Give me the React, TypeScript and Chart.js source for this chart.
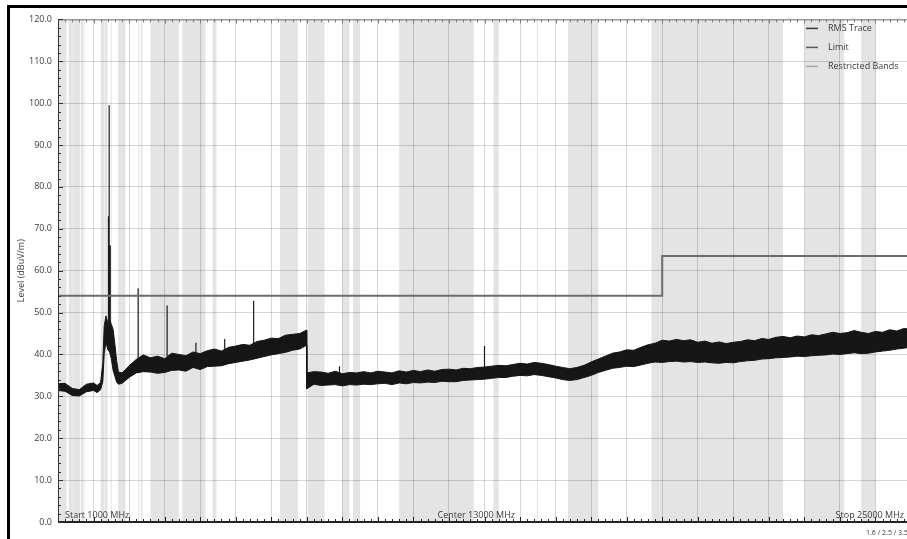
import { useEffect, useRef } from "react";
import { Chart, registerables } from "chart.js";

Chart.register(...registerables);

// ---- axis ranges / ticks ----
const FREQ_MIN = 1000;
const FREQ_MAX = 25000;
const FREQ_MAJOR = 1000;
const FREQ_MINOR = 200;
const LEVEL_MIN = 0;
const LEVEL_MAX = 120;
const LEVEL_MAJOR = 10;
const LEVEL_MINOR = 2;

// ---- RMS trace envelope (MHz, dBuV/m) ----
const traceFreqs = [
  1000, 1200, 1400, 1600, 1800, 2000, 2100, 2200, 2260, 2300, 2350, 2400, 2450, 2500, 2550, 2600, 2650, 2700,
  2800, 2900, 3000, 3200, 3400, 3600, 3800, 4000, 4200, 4400, 4600, 4800, 5000, 5200, 5400, 5600, 5800, 6000,
  6200, 6400, 6600, 6800, 7000, 7200, 7400, 7600, 7800, 7990, 8000, 8200, 8400, 8600, 8800, 9000, 9200, 9400,
  9600, 9800, 10000, 10200, 10400, 10600, 10800, 11000, 11200, 11400, 11600, 11800, 12000, 12200, 12400, 12600,
  12800, 13000, 13200, 13400, 13600, 13800, 14000, 14200, 14400, 14600, 14800, 15000, 15200, 15400, 15600,
  15800, 16000, 16200, 16400, 16600, 16800, 17000, 17200, 17400, 17600, 17800, 18000, 18200, 18400, 18600,
  18800, 19000, 19200, 19400, 19600, 19800, 20000, 20200, 20400, 20600, 20800, 21000, 21200, 21400, 21600,
  21800, 22000, 22200, 22400, 22600, 22800, 23000, 23200, 23400, 23600, 23800, 24000, 24200, 24400, 24600,
  24800, 25000,
];
const traceLow = [
  31.4, 31.2, 30.2, 30.1, 31.1, 31.4, 30.9, 31.6, 33.5, 40.2, 43.0, 41.2, 40.6, 39.0, 36.2, 34.8, 33.4, 32.9,
  33.1, 33.8, 34.5, 35.6, 35.9, 35.8, 35.5, 35.7, 36.2, 36.3, 36.0, 36.9, 36.4, 37.1, 37.2, 37.3, 37.8, 38.1,
  38.4, 38.7, 39.1, 39.5, 39.9, 40.2, 40.5, 41.0, 41.3, 42.2, 31.8, 32.9, 32.6, 32.7, 32.8, 32.5, 32.8, 32.7,
  32.9, 32.8, 33.0, 33.1, 32.8, 33.2, 33.0, 33.3, 33.2, 33.4, 33.3, 33.6, 33.5, 33.5, 33.8, 33.9,
  34.0, 34.1, 34.3, 34.5, 34.5, 34.8, 35.0, 34.9, 35.2, 35.0, 34.7, 34.4, 34.0, 33.8, 34.0,
  34.5, 35.0, 35.7, 36.2, 36.7, 36.9, 37.2, 37.1, 37.5, 37.9, 38.2, 38.1, 38.3, 38.4, 38.2,
  38.3, 38.1, 38.2, 38.0, 37.9, 38.1, 38.0, 38.3, 38.5, 38.6, 38.9, 39.0, 39.2, 39.3, 39.4,
  39.6, 39.5, 39.7, 39.8, 39.9, 40.1, 40.0, 40.2, 40.4, 40.2, 40.3, 40.6, 40.8, 41.0, 41.3,
  41.5, 41.8,
];
const traceHigh = [
  33.0, 33.1, 31.9, 31.6, 32.9, 33.2, 32.6, 33.3, 38.0, 46.8, 49.2, 47.6, 48.4, 47.2, 46.0, 42.5, 38.6, 35.8,
  35.6, 36.4, 37.3, 38.8, 39.9, 39.2, 39.6, 39.0, 40.3, 40.0, 39.7, 40.6, 40.2, 40.9, 41.3, 40.8, 41.7, 42.0,
  42.4, 42.2, 43.1, 43.4, 43.9, 43.8, 44.6, 44.8, 45.0, 45.8, 35.6, 35.9, 35.8, 35.5, 36.0, 35.4, 35.7, 35.6,
  35.9, 35.6, 36.0, 35.8, 35.6, 36.1, 35.8, 36.2, 35.9, 36.3, 36.0, 36.4, 36.5, 36.3, 36.7, 36.6,
  36.9, 37.0, 37.2, 37.4, 37.3, 37.6, 37.9, 37.7, 38.1, 37.9, 37.6, 37.2, 36.9, 36.6, 36.9,
  37.4, 38.2, 38.9, 39.6, 40.3, 40.6, 41.1, 41.0, 41.7, 42.3, 42.7, 43.4, 43.2, 43.6, 43.3,
  43.5, 42.9, 43.2, 42.7, 43.0, 42.6, 42.9, 43.1, 43.5, 43.3, 43.8, 43.6, 44.1, 44.3, 44.0,
  44.4, 44.2, 44.7, 44.5, 44.9, 45.3, 45.0, 45.2, 45.7, 45.3, 45.0, 45.5, 45.3, 45.9, 45.6,
  46.2, 46.0,
];

// ---- narrow emissions (MHz, base and peak dBuV/m) ----
const spikeFreqs = [2420, 2440, 2470, 3255, 4070, 4880, 5690, 6505, 8920, 13000];
const spikeBase = [46.5, 47.5, 46.5, 39.0, 39.5, 40.0, 41.0, 42.5, 35.5, 36.8];
const spikePeaks = [73.0, 99.5, 66.0, 55.8, 51.7, 42.8, 43.7, 52.8, 37.2, 42.0];

// ---- limit line ----
const limitFreqs = [1000, 18000, 18000, 25000];
const limitLevels = [54, 54, 63.5, 63.5];

// ---- restricted bands (MHz) ----
const bandStarts = [
  960, 1300, 1435, 1645.5, 1660, 1718.8, 2200, 2310, 2483.5, 2690, 3260, 3332, 3345.8, 3600, 4500, 5350, 7250,
  8025, 9000, 9300, 10600, 13250, 14470, 15350, 17700, 22010, 23600,
];
const bandEnds = [
  1240, 1427, 1626.5, 1646.5, 1710, 1722.2, 2300, 2390, 2500, 2900, 3267, 3339, 3358, 4400, 5150, 5460, 7750,
  8500, 9200, 9500, 12700, 13400, 14500, 16200, 21400, 23120, 24000,
];

// ---- texts ----
const yTitle = "Level (dBuV/m)";
const legendLabels = ["RMS Trace", "Limit", "Restricted Bands"];
const legendColors = ["#3a3a3a", "#5a5a5a", "#a8a8a8"];
const startLabel = "Start 1000 MHz";
const centerLabel = "Center 13000 MHz";
const centerFreq = 13000;
const stopLabel = "Stop 25000 MHz";
const distanceLabel = "1.6 / 2.5 / 3.5 m";

const FONT = "'Open Sans', 'Noto Sans', sans-serif";
const TEXT_COLOR = "#3a3a3a";

const decorPlugin = {
  id: "decor",
  beforeDraw(chart: any) {
    const { ctx, chartArea } = chart;
    const xs = chart.scales.x;
    ctx.save();
    ctx.fillStyle = "#e4e4e4";
    for (let i = 0; i < bandStarts.length; i++) {
      const s = Math.max(bandStarts[i], FREQ_MIN);
      const e = Math.min(bandEnds[i], FREQ_MAX);
      if (e <= s) continue;
      const x1 = xs.getPixelForValue(s);
      const x2 = xs.getPixelForValue(e);
      ctx.fillRect(x1, chartArea.top, Math.max(x2 - x1, 1), chartArea.bottom - chartArea.top);
    }
    ctx.restore();
  },
  afterDatasetsDraw(chart: any) {
    const { ctx, chartArea } = chart;
    const xs = chart.scales.x;
    const ys = chart.scales.y;
    const { left, right, top, bottom } = chartArea;
    ctx.save();
    // top axis
    ctx.strokeStyle = "#7a7a7a";
    ctx.lineWidth = 1;
    ctx.beginPath();
    ctx.moveTo(left, top + 0.5);
    ctx.lineTo(right, top + 0.5);
    for (let f = FREQ_MIN; f <= FREQ_MAX; f += FREQ_MINOR) {
      const x = Math.round(xs.getPixelForValue(f)) + 0.5;
      const len = f % FREQ_MAJOR === 0 ? 4 : 3;
      ctx.moveTo(x, top);
      ctx.lineTo(x, top + len);
    }
    ctx.stroke();
    // bottom axis
    ctx.strokeStyle = "#222";
    ctx.beginPath();
    for (let f = FREQ_MIN; f <= FREQ_MAX; f += FREQ_MINOR) {
      const x = Math.round(xs.getPixelForValue(f)) + 0.5;
      const len = f % FREQ_MAJOR === 0 ? 5 : 3;
      ctx.moveTo(x, bottom);
      ctx.lineTo(x, bottom - len);
    }
    ctx.stroke();
    ctx.lineWidth = 2;
    ctx.beginPath();
    ctx.moveTo(left, bottom);
    ctx.lineTo(right, bottom);
    ctx.stroke();
    // left axis
    ctx.strokeStyle = "#333";
    ctx.lineWidth = 1;
    ctx.beginPath();
    ctx.moveTo(left + 0.5, top);
    ctx.lineTo(left + 0.5, bottom);
    for (let v = LEVEL_MIN; v <= LEVEL_MAX; v += LEVEL_MINOR) {
      const y = Math.round(ys.getPixelForValue(v)) + 0.5;
      const len = v % LEVEL_MAJOR === 0 ? 5 : 3;
      ctx.moveTo(left, y);
      ctx.lineTo(left + len, y);
    }
    ctx.stroke();
    ctx.restore();
  },
  afterDraw(chart: any) {
    const { ctx, chartArea } = chart;
    const xs = chart.scales.x;
    const { right, top, bottom, left } = chartArea;
    ctx.save();
    ctx.fillStyle = TEXT_COLOR;
    ctx.font = `9px ${FONT}`;
    ctx.textBaseline = "middle";
    ctx.textAlign = "left";
    ctx.fillText(startLabel, left + 7, bottom - 7);
    ctx.fillText(centerLabel, xs.getPixelForValue(centerFreq) - 47, bottom - 7);
    ctx.textAlign = "right";
    ctx.fillText(stopLabel, right - 7, bottom - 7);
    ctx.textAlign = "left";
    ctx.font = `7px ${FONT}`;
    ctx.fillText(distanceLabel, right - 45, bottom + 11);
    // legend
    ctx.font = `9px ${FONT}`;
    for (let i = 0; i < legendLabels.length; i++) {
      const y = top + 9 + i * 19;
      ctx.strokeStyle = legendColors[i];
      ctx.lineWidth = 1.5;
      ctx.beginPath();
      ctx.moveTo(right - 105, y);
      ctx.lineTo(right - 93, y);
      ctx.stroke();
      ctx.fillStyle = TEXT_COLOR;
      ctx.fillText(legendLabels[i], right - 83, y);
    }
    ctx.restore();
  },
};

export default function App() {
  const ref = useRef<HTMLCanvasElement | null>(null);

  useEffect(() => {
    if (!ref.current) return;
    const spikeData: any[] = [];
    for (let i = 0; i < spikeFreqs.length; i++) {
      spikeData.push({ x: spikeFreqs[i], y: spikeBase[i] });
      spikeData.push({ x: spikeFreqs[i], y: spikePeaks[i] });
      spikeData.push({ x: spikeFreqs[i], y: null });
    }
    const chart = new Chart(ref.current, {
      type: "line",
      data: {
        datasets: [
          {
            label: "Limit",
            data: limitFreqs.map((f, i) => ({ x: f, y: limitLevels[i] })),
            borderColor: "#6c6c6c",
            borderWidth: 2,
            pointRadius: 0,
            fill: false,
          },
          {
            label: "RMS Trace spikes",
            data: spikeData,
            borderColor: "#1a1a1a",
            borderWidth: 1.2,
            pointRadius: 0,
            spanGaps: false,
            fill: false,
          },
          {
            label: "RMS Trace low",
            data: traceFreqs.map((f, i) => ({ x: f, y: traceLow[i] })),
            borderColor: "#161616",
            borderWidth: 1,
            pointRadius: 0,
            fill: false,
          },
          {
            label: "RMS Trace",
            data: traceFreqs.map((f, i) => ({ x: f, y: traceHigh[i] })),
            borderColor: "#161616",
            backgroundColor: "#161616",
            borderWidth: 1,
            pointRadius: 0,
            fill: "-1",
          },
        ],
      },
      options: {
        responsive: false,
        animation: false,
        devicePixelRatio: 1,
        layout: { padding: { top: 8, right: 24, left: 0, bottom: 0 } },
        plugins: { legend: { display: false }, tooltip: { enabled: false } },
        elements: { line: { tension: 0 } },
        scales: {
          x: {
            type: "linear",
            min: FREQ_MIN,
            max: FREQ_MAX,
            ticks: { display: false, stepSize: FREQ_MAJOR },
            grid: { color: "rgba(0,0,0,0.16)", lineWidth: 1, drawTicks: false },
            border: { display: false },
            afterFit: (s: any) => {
              s.height = 17;
            },
          },
          y: {
            min: LEVEL_MIN,
            max: LEVEL_MAX,
            ticks: {
              stepSize: LEVEL_MAJOR,
              padding: 6,
              color: TEXT_COLOR,
              font: { family: FONT, size: 9 },
              callback: (v: any) => Number(v).toFixed(1),
            },
            grid: { color: "rgba(0,0,0,0.16)", lineWidth: 1, drawTicks: false },
            border: { display: false },
            title: {
              display: true,
              text: yTitle,
              color: TEXT_COLOR,
              font: { family: FONT, size: 9 },
              padding: { top: 6, bottom: 0 },
            },
            afterFit: (s: any) => {
              s.width = 48;
            },
          },
        },
      },
      plugins: [decorPlugin],
    });
    return () => chart.destroy();
  }, []);

  return (
    <div
      style={{
        position: "absolute",
        left: 7,
        top: 5,
        width: 900,
        height: 534,
        boxSizing: "border-box",
        borderLeft: "3px solid #000",
        borderTop: "3px solid #000",
        overflow: "hidden",
        background: "#fff",
      }}
    >
      <canvas ref={ref} width={925} height={531} style={{ display: "block", width: 925, height: 531 }} />
    </div>
  );
}
